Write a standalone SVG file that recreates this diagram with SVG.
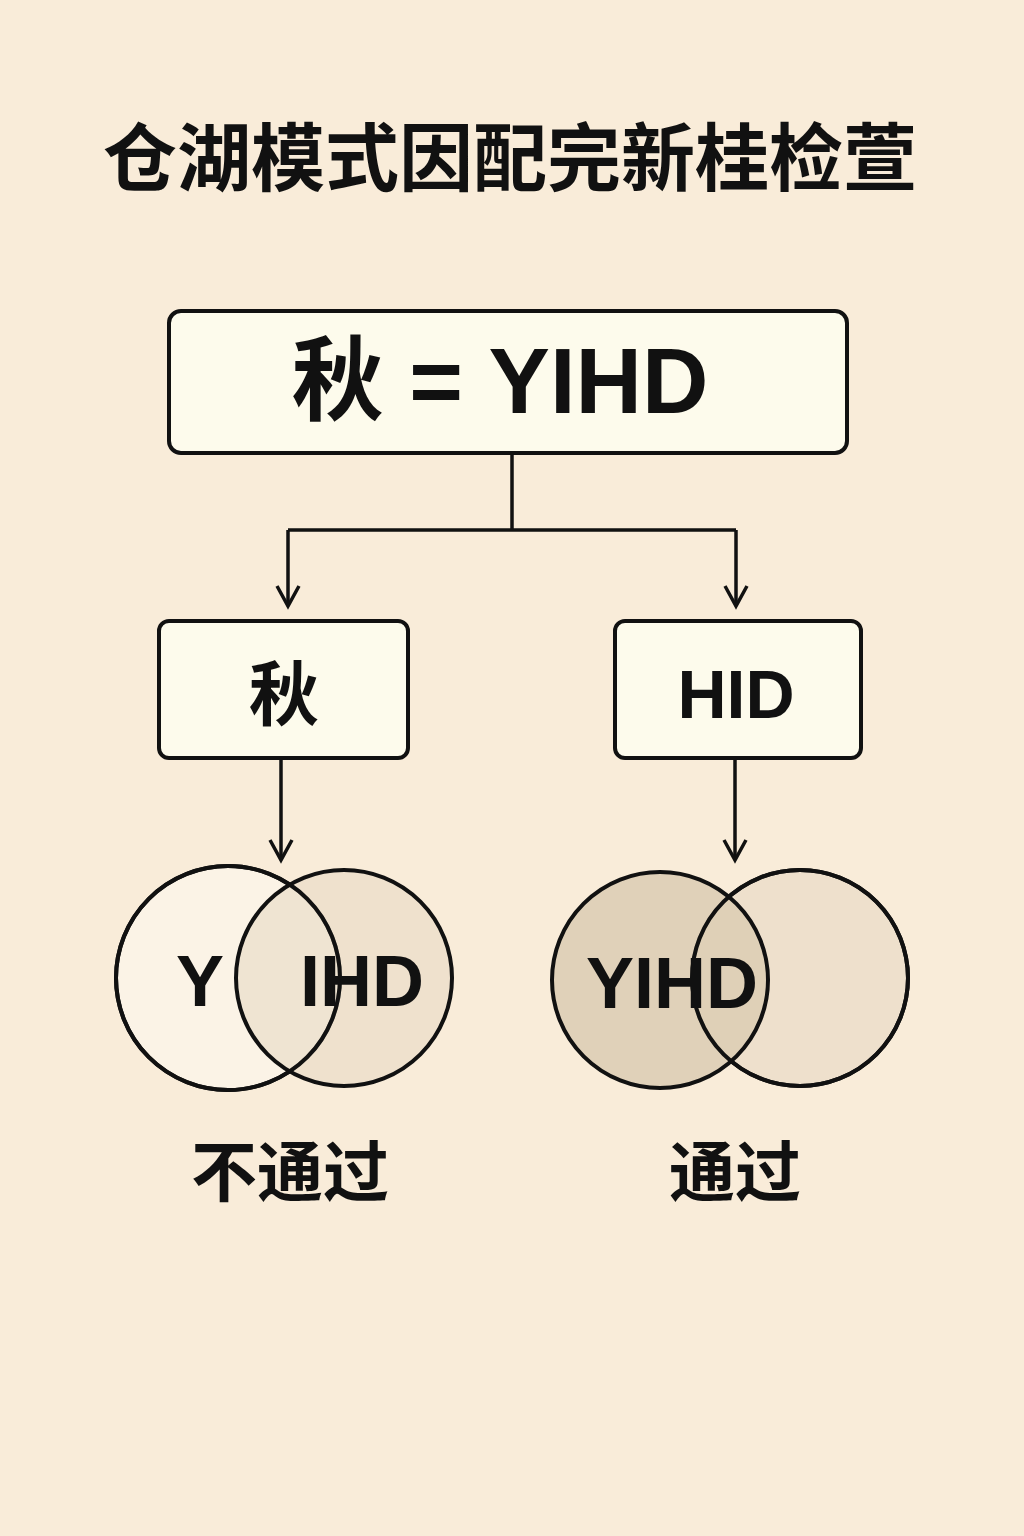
<svg xmlns="http://www.w3.org/2000/svg" width="1024" height="1536" viewBox="0 0 1024 1536">
<style>
.t{font-family:"Liberation Sans","Noto Sans CJK SC",sans-serif;font-weight:bold;fill:#111;text-anchor:middle}
.box{fill:#fdfbec;stroke:#111;stroke-width:4}
.ln{fill:none;stroke:#111;stroke-width:3.5}
.c{stroke:#111;stroke-width:4}
</style>
<defs><marker id="a" markerWidth="26" markerHeight="26" refX="22" refY="13" orient="auto" markerUnits="userSpaceOnUse"><path d="M2,2 L22,13 L2,24" fill="none" stroke="#111" stroke-width="3.5"/></marker></defs>
<rect width="1024" height="1536" fill="#f9ecd9"/>
<text class="t" x="510" y="185" font-size="74">仓湖模式因配完新桂检萱</text>
<g id="top"><rect class="box" x="169" y="311" width="678" height="142" rx="12"/><text class="t" x="500" y="413" font-size="92">秋 = YIHD</text></g>
<g id="left"><rect class="box" x="159" y="621" width="249" height="137" rx="10"/><text class="t" x="284" y="720" font-size="70">秋</text></g>
<g id="right"><rect class="box" x="615" y="621" width="246" height="137" rx="10"/><text class="t" x="736" y="718" font-size="68">HID</text></g>
<g id="venn1">
<circle class="c" cx="228" cy="978" r="112" fill="#fbf3e6"/>
<circle class="c" cx="344" cy="978" r="108" fill="#e8dac4" fill-opacity="0.6"/>
<circle cx="228" cy="978" r="112" fill="none" class="c"/>
<text class="t" x="200" y="1006" font-size="72">Y</text><text class="t" x="362" y="1006" font-size="72">IHD</text>
<text class="t" x="290" y="1196" font-size="66">不通过</text></g>
<g id="venn2">
<circle class="c" cx="800" cy="978" r="108" fill="#eee0cc"/>
<circle class="c" cx="660" cy="980" r="108" fill="#dccdb3" fill-opacity="0.85"/>
<circle cx="800" cy="978" r="108" fill="none" class="c"/>
<text class="t" x="672" y="1008" font-size="72">YIHD</text>
<text class="t" x="735" y="1196" font-size="66">通过</text></g>
<g id="connectors">
<path class="ln" d="M512,453 V530 M288,530 H736"/>
<path class="ln" d="M288,530 V606" marker-end="url(#a)"/>
<path class="ln" d="M736,530 V606" marker-end="url(#a)"/>
<path class="ln" d="M281,760 V860" marker-end="url(#a)"/>
<path class="ln" d="M735,760 V860" marker-end="url(#a)"/>
</g>
</svg>
